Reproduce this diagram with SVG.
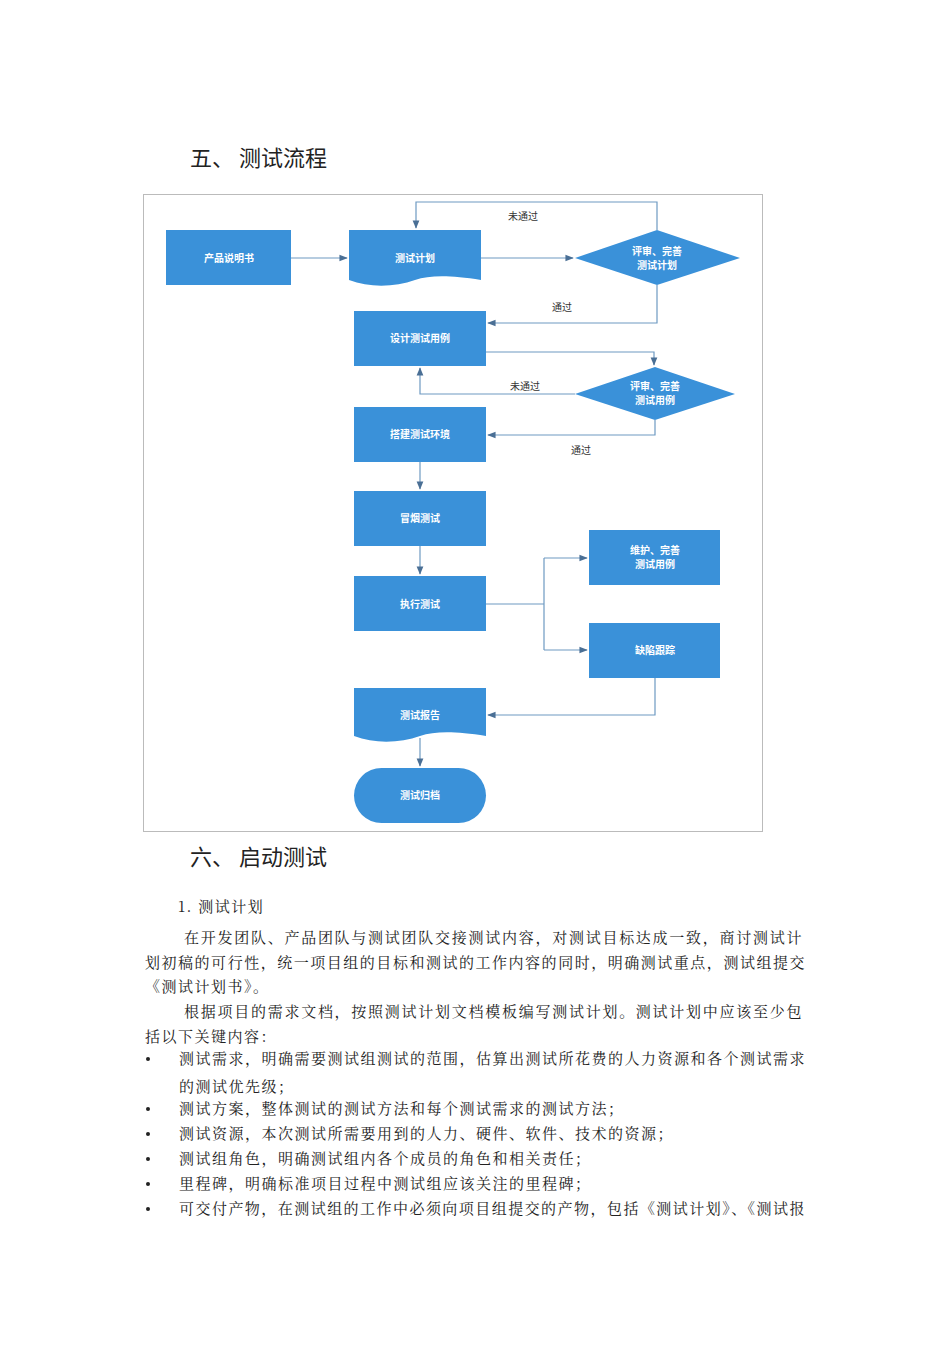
<svg xmlns="http://www.w3.org/2000/svg" width="950" height="1345" viewBox="0 0 950 1345">
<style>
.n{fill:#3a91d9;}
.nt{font-family:"Noto Sans CJK SC",sans-serif;font-size:10px;font-weight:bold;fill:#fff;text-anchor:middle;}
.c{fill:none;stroke:#6e9ac2;stroke-width:1.2;}
.lb{font-family:"Noto Sans CJK SC",sans-serif;font-size:10px;fill:#333;text-anchor:middle;}
.h{font-family:"Noto Sans CJK SC",sans-serif;font-size:22px;fill:#222;}
.b{font-family:"Noto Serif CJK SC","Noto Sans CJK SC",serif;font-size:15px;fill:#222;letter-spacing:1.5px;}
</style>
<defs>
<marker id="a" viewBox="0 0 10 10" refX="9" refY="5" markerWidth="7" markerHeight="7" orient="auto"><path d="M0,1 L10,5 L0,9 z" fill="#4a6f95"/></marker>
</defs>
<rect width="950" height="1345" fill="#fff"/>
<text class="h" x="190" y="166">五、 测试流程</text>
<rect x="143.5" y="194.5" width="619" height="637" fill="none" stroke="#bbb"/>
<g id="connectors">
<path class="c" d="M291,258 H347" marker-end="url(#a)"/>
<path class="c" d="M481,258 H573" marker-end="url(#a)"/>
<path class="c" d="M657,230 V202 H416 V228" marker-end="url(#a)"/>
<path class="c" d="M657,285 V323 H488" marker-end="url(#a)"/>
<path class="c" d="M486,352 H654 V365" marker-end="url(#a)"/>
<path class="c" d="M575,394 H420 V368" marker-end="url(#a)"/>
<path class="c" d="M655,420 V435 H488" marker-end="url(#a)"/>
<path class="c" d="M420,462 V489" marker-end="url(#a)"/>
<path class="c" d="M420,546 V574" marker-end="url(#a)"/>
<path class="c" d="M486,604 H544 M544,558 V650"/>
<path class="c" d="M544,558 H587" marker-end="url(#a)"/>
<path class="c" d="M544,650 H587" marker-end="url(#a)"/>
<path class="c" d="M655,678 V715 H488" marker-end="url(#a)"/>
<path class="c" d="M420,738 V766" marker-end="url(#a)"/>
<text class="lb" x="523" y="220">未通过</text>
<text class="lb" x="562" y="311">通过</text>
<text class="lb" x="525" y="390">未通过</text>
<text class="lb" x="581" y="454">通过</text>
</g>
<g id="n1"><rect class="n" x="166" y="230" width="125" height="55"/><text class="nt" x="229" y="262">产品说明书</text></g>
<g id="n2"><path class="n" d="M349,230 H481 V280 C450,275 430,275 415,280 C395,287 370,288 349,280 Z"/><text class="nt" x="415" y="262">测试计划</text></g>
<g id="n3"><path class="n" d="M575,258 L657,230 L740,258 L657,285 Z"/><text class="nt" x="657" y="255">评审、完善</text><text class="nt" x="657" y="269">测试计划</text></g>
<g id="n4"><rect class="n" x="354" y="311" width="132" height="55"/><text class="nt" x="420" y="342">设计测试用例</text></g>
<g id="n5"><path class="n" d="M575,394 L655,367 L735,394 L655,420 Z"/><text class="nt" x="655" y="390">评审、完善</text><text class="nt" x="655" y="404">测试用例</text></g>
<g id="n6"><rect class="n" x="354" y="407" width="132" height="55"/><text class="nt" x="420" y="438">搭建测试环境</text></g>
<g id="n7"><rect class="n" x="354" y="491" width="132" height="55"/><text class="nt" x="420" y="522">冒烟测试</text></g>
<g id="n8"><rect class="n" x="354" y="576" width="132" height="55"/><text class="nt" x="420" y="608">执行测试</text></g>
<g id="n9"><rect class="n" x="589" y="530" width="131" height="55"/><text class="nt" x="655" y="554">维护、完善</text><text class="nt" x="655" y="568">测试用例</text></g>
<g id="n10"><rect class="n" x="589" y="623" width="131" height="55"/><text class="nt" x="655" y="654">缺陷跟踪</text></g>
<g id="n11"><path class="n" d="M354,688 H486 V736 C455,731 435,731 420,736 C400,743 375,744 354,736 Z"/><text class="nt" x="420" y="719">测试报告</text></g>
<g id="n12"><rect class="n" x="354" y="768" width="132" height="55" rx="27.5"/><text class="nt" x="420" y="799">测试归档</text></g>
<text class="h" x="190" y="865">六、 启动测试</text>
<text class="b" x="178" y="912">1.   测试计划</text>
<text class="b" x="184" y="943" textLength="619" lengthAdjust="spacing">在开发团队、产品团队与测试团队交接测试内容，对测试目标达成一致，商讨测试计</text>
<text class="b" x="145" y="968" textLength="661" lengthAdjust="spacing">划初稿的可行性，统一项目组的目标和测试的工作内容的同时，明确测试重点，测试组提交</text>
<text class="b" x="145" y="992">《测试计划书》。</text>
<text class="b" x="184" y="1017" textLength="619" lengthAdjust="spacing">根据项目的需求文档，按照测试计划文档模板编写测试计划。测试计划中应该至少包</text>
<text class="b" x="145" y="1042">括以下关键内容：</text>
<g fill="#222"><circle cx="148" cy="1059" r="2"/><circle cx="148" cy="1109" r="2"/><circle cx="148" cy="1134" r="2"/><circle cx="148" cy="1159" r="2"/><circle cx="148" cy="1184" r="2"/><circle cx="148" cy="1209" r="2"/></g>
<text class="b" x="179" y="1064" textLength="627" lengthAdjust="spacing">测试需求，明确需要测试组测试的范围，估算出测试所花费的人力资源和各个测试需求</text>
<text class="b" x="179" y="1092">的测试优先级；</text>
<text class="b" x="179" y="1114">测试方案，整体测试的测试方法和每个测试需求的测试方法；</text>
<text class="b" x="179" y="1139">测试资源，本次测试所需要用到的人力、硬件、软件、技术的资源；</text>
<text class="b" x="179" y="1164">测试组角色，明确测试组内各个成员的角色和相关责任；</text>
<text class="b" x="179" y="1189">里程碑，明确标准项目过程中测试组应该关注的里程碑；</text>
<text class="b" x="179" y="1214" textLength="627" lengthAdjust="spacing">可交付产物，在测试组的工作中必须向项目组提交的产物，包括《测试计划》、《测试报</text>
</svg>
